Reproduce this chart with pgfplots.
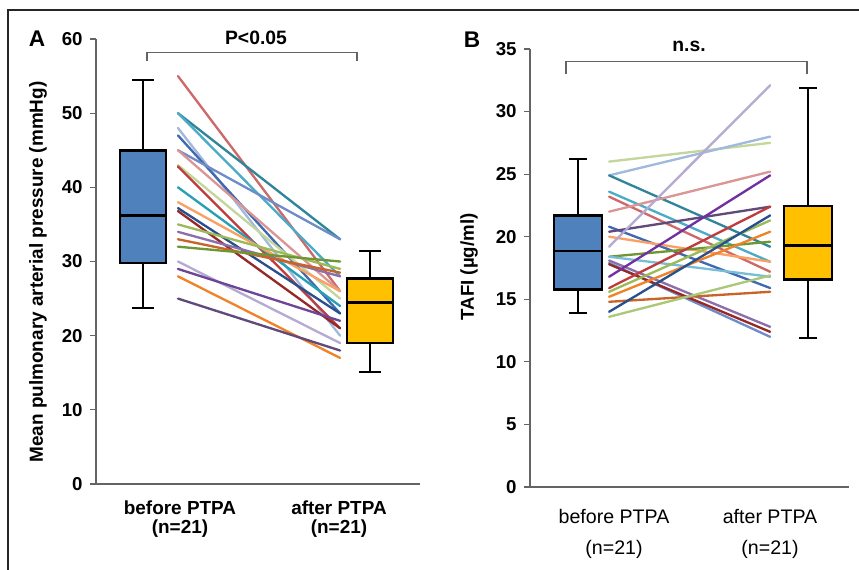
\documentclass[border=0pt]{standalone}
\usepackage{fontspec}
\setmainfont{Liberation Sans}
\usepackage{pgfplots}
\pgfplotsset{compat=1.18}
\definecolor{boxblue}{RGB}{79,129,189}
\definecolor{boxyel}{RGB}{255,192,0}
\definecolor{axgray}{RGB}{100,100,100}
\definecolor{cRedPink}{RGB}{205,105,105}
\definecolor{cDarkTeal}{RGB}{49,133,155}
\definecolor{cTeal}{RGB}{75,172,198}
\definecolor{cTeal2}{RGB}{40,160,180}
\definecolor{cLightBlue}{RGB}{160,185,220}
\definecolor{cBlue}{RGB}{65,105,175}
\definecolor{cPeri}{RGB}{110,140,200}
\definecolor{cPink}{RGB}{217,150,148}
\definecolor{cLightGreen}{RGB}{195,214,155}
\definecolor{cRed}{RGB}{192,60,60}
\definecolor{cOrangeL}{RGB}{250,160,100}
\definecolor{cDarkBlue}{RGB}{40,80,140}
\definecolor{cDarkRed}{RGB}{150,40,40}
\definecolor{cGreen}{RGB}{155,187,89}
\definecolor{cPurple}{RGB}{140,110,170}
\definecolor{cBrown}{RGB}{200,100,40}
\definecolor{cOlive}{RGB}{110,150,50}
\definecolor{cLavender}{RGB}{180,170,210}
\definecolor{cPurple2}{RGB}{110,70,150}
\definecolor{cOrange}{RGB}{240,130,40}
\definecolor{cDarkPurple}{RGB}{96,74,123}
\definecolor{cCyan}{RGB}{120,190,215}
\definecolor{cViolet}{RGB}{112,48,160}
\definecolor{cGreen2}{RGB}{170,200,120}
\pgfplotsset{
  pan/.style={
    scale only axis, anchor=south west, clip=false,
    axis x line=bottom, axis y line=left,
    axis line style={-, line width=0.9pt, draw=axgray},
    tick style={line width=0.9pt, draw=axgray},
    major tick length=4.5pt, tick align=outside,
    xtick=\empty,
    /pgf/number format/assume math mode=true,
    yticklabel style={font=\fontsize{14}{16}\selectfont\bfseries, text=black, xshift=-2pt},
  },
  ln/.style={line width=1.75pt, line cap=round},
  wh/.style={black, line width=1.4pt},
  bxs/.style={draw=black, line width=2pt, line join=miter},
  md/.style={black, line width=2pt},
}
\begin{document}
\begin{tikzpicture}
\path[use as bounding box] (0pt,0pt) rectangle (644.25pt,-427.5pt);
\draw[line width=1.6pt, black!85] (6pt,-428.25pt) -- (6pt,-7.5pt) -- (645pt,-7.5pt);
% ---------------- Panel A
\begin{axis}[pan, at={(72pt,-363pt)}, width=243pt, height=333.75pt,
  xmin=0.793, xmax=2.220, ymin=0, ymax=60, ytick={0,10,...,60}]
% box "before": whiskers 23.7/54.5, quartiles 29.8/45, median 36.2
\addplot[wh] coordinates {(1,45) (1,54.5)};
\addplot[wh] coordinates {(0.9535,54.5) (1.0465,54.5)};
\addplot[wh] coordinates {(1,29.8) (1,23.7)};
\addplot[wh] coordinates {(0.9535,23.7) (1.0465,23.7)};
\addplot[bxs, fill=boxblue] coordinates {(0.8985,29.8) (1.1015,29.8) (1.1015,45) (0.8985,45)} -- cycle;
\addplot[md] coordinates {(0.8985,36.2) (1.1015,36.2)};
% box "after": whiskers 15.1/31.4, quartiles 19.0/27.7, median 24.5
\addplot[wh] coordinates {(2,27.7) (2,31.4)};
\addplot[wh] coordinates {(1.9535,31.4) (2.0465,31.4)};
\addplot[wh] coordinates {(2,19.0) (2,15.1)};
\addplot[wh] coordinates {(1.9535,15.1) (2.0465,15.1)};
\addplot[bxs, fill=boxyel] coordinates {(1.8985,19.0) (2.1015,19.0) (2.1015,27.7) (1.8985,27.7)} -- cycle;
\addplot[md] coordinates {(1.8985,24.5) (2.1015,24.5)};
% paired lines
\addplot[ln, cRedPink]    coordinates {(1.154,55) (1.868,26)};
\addplot[ln, cDarkTeal]   coordinates {(1.154,50) (1.868,33)};
\addplot[ln, cTeal]       coordinates {(1.154,50) (1.868,28)};
\addplot[ln, cLightBlue]  coordinates {(1.154,48) (1.868,20)};
\addplot[ln, cBlue]       coordinates {(1.154,47) (1.868,23)};
\addplot[ln, cPeri]       coordinates {(1.154,45) (1.868,33)};
\addplot[ln, cPink]       coordinates {(1.154,45) (1.868,26)};
\addplot[ln, cLightGreen] coordinates {(1.154,43) (1.868,25)};
\addplot[ln, cRed]        coordinates {(1.154,42.8) (1.868,21)};
\addplot[ln, cTeal2]      coordinates {(1.154,40) (1.868,24)};
\addplot[ln, cOrangeL]    coordinates {(1.154,38) (1.868,26)};
\addplot[ln, cDarkBlue]   coordinates {(1.154,37.2) (1.868,23)};
\addplot[ln, cDarkRed]    coordinates {(1.154,36.8) (1.868,21)};
\addplot[ln, cGreen]      coordinates {(1.154,35) (1.868,29)};
\addplot[ln, cPurple]     coordinates {(1.154,34) (1.868,28)};
\addplot[ln, cBrown]      coordinates {(1.154,33) (1.868,28.5)};
\addplot[ln, cOlive]      coordinates {(1.154,32) (1.868,30)};
\addplot[ln, cLavender]   coordinates {(1.154,30) (1.868,19)};
\addplot[ln, cPurple2]    coordinates {(1.154,29) (1.868,22)};
\addplot[ln, cOrange]     coordinates {(1.154,28) (1.868,17)};
\addplot[ln, cDarkPurple] coordinates {(1.154,25) (1.868,18)};
\end{axis}
% ---------------- Panel B
\begin{axis}[pan, at={(397.5pt,-365.25pt)}, width=239.25pt, height=328.5pt,
  xmin=0.791, xmax=2.178, ymin=0, ymax=35, ytick={0,5,...,35}]
% box "before": whiskers 13.9/26.2, quartiles 15.8/21.7, median 18.85
\addplot[wh] coordinates {(1,21.7) (1,26.2)};
\addplot[wh] coordinates {(0.96,26.2) (1.04,26.2)};
\addplot[wh] coordinates {(1,15.8) (1,13.9)};
\addplot[wh] coordinates {(0.96,13.9) (1.04,13.9)};
\addplot[bxs, fill=boxblue] coordinates {(0.8955,15.8) (1.1045,15.8) (1.1045,21.7) (0.8955,21.7)} -- cycle;
\addplot[md] coordinates {(0.8955,18.85) (1.1045,18.85)};
% box "after": whiskers 11.9/31.9, quartiles 16.6/22.45, median 19.3
\addplot[wh] coordinates {(2,22.45) (2,31.9)};
\addplot[wh] coordinates {(1.96,31.9) (2.04,31.9)};
\addplot[wh] coordinates {(2,16.6) (2,11.9)};
\addplot[wh] coordinates {(1.96,11.9) (2.04,11.9)};
\addplot[bxs, fill=boxyel] coordinates {(1.8955,16.6) (2.1045,16.6) (2.1045,22.45) (1.8955,22.45)} -- cycle;
\addplot[md] coordinates {(1.8955,19.3) (2.1045,19.3)};
% paired lines
\addplot[ln, cLightGreen] coordinates {(1.135,26.0) (1.835,27.5)};
\addplot[ln, cLightBlue]  coordinates {(1.135,24.9) (1.835,28.0)};
\addplot[ln, cDarkTeal]   coordinates {(1.135,24.9) (1.835,19.2)};
\addplot[ln, cTeal]       coordinates {(1.135,23.6) (1.835,18.0)};
\addplot[ln, cRedPink]    coordinates {(1.135,23.2) (1.835,17.2)};
\addplot[ln, cPink]       coordinates {(1.135,22.0) (1.835,25.2)};
\addplot[ln, cBlue]       coordinates {(1.135,20.8) (1.835,15.9)};
\addplot[ln, cDarkPurple] coordinates {(1.135,20.4) (1.835,22.4)};
\addplot[ln, cOrangeL]    coordinates {(1.135,20.0) (1.835,18.0)};
\addplot[ln, cLavender]   coordinates {(1.135,19.2) (1.835,32.1)};
\addplot[ln, cOlive]      coordinates {(1.135,18.4) (1.835,19.6)};
\addplot[ln, cCyan]       coordinates {(1.135,18.4) (1.835,16.8)};
\addplot[ln, cPurple]     coordinates {(1.135,18.1) (1.835,12.8)};
\addplot[ln, cPeri]       coordinates {(1.135,17.9) (1.835,12.0)};
\addplot[ln, cDarkRed]    coordinates {(1.135,17.8) (1.835,12.4)};
\addplot[ln, cViolet]     coordinates {(1.135,16.8) (1.835,24.9)};
\addplot[ln, cRed]        coordinates {(1.135,15.9) (1.835,22.4)};
\addplot[ln, cGreen]      coordinates {(1.135,15.6) (1.835,21.3)};
\addplot[ln, cOrange]     coordinates {(1.135,15.2) (1.835,20.4)};
\addplot[ln, cBrown]      coordinates {(1.135,14.8) (1.835,15.6)};
\addplot[ln, cDarkBlue]   coordinates {(1.135,14.0) (1.835,21.7)};
\addplot[ln, cGreen2]     coordinates {(1.135,13.6) (1.835,16.9)};
\end{axis}
% ---------------- Annotations
\node[font=\fontsize{17}{20}\selectfont\bfseries] at (27.75pt,-29.25pt) {A};
\node[font=\fontsize{17}{20}\selectfont\bfseries] at (354pt,-30pt) {B};
\draw[line width=0.8pt, axgray] (110.25pt,-45.75pt) -- (110.25pt,-39.375pt) -- (267.75pt,-39.375pt) -- (267.75pt,-45.75pt);
\node[font=\fontsize{14.5}{17}\selectfont\bfseries] at (192pt,-28.5pt) {P<0.05};
\draw[line width=0.8pt, axgray] (424.5pt,-55.875pt) -- (424.5pt,-46.275pt) -- (605.25pt,-46.275pt) -- (605.25pt,-55.875pt);
\node[font=\fontsize{14.5}{17}\selectfont\bfseries] at (516.75pt,-34.5pt) {n.s.};
\node[rotate=90, font=\fontsize{14.2}{16}\selectfont\bfseries] at (28.5pt,-204pt) {Mean pulmonary arterial pressure (mmHg)};
\node[rotate=90, font=\fontsize{14}{16}\selectfont\bfseries] at (351.75pt,-200.25pt) {TAFI (µg/ml)};
\node[font=\fontsize{14.2}{17}\selectfont\bfseries] at (135pt,-380.6pt) {before PTPA};
\node[font=\fontsize{14.2}{17}\selectfont\bfseries] at (135pt,-396.75pt) {(n=21)};
\node[font=\fontsize{14.2}{17}\selectfont\bfseries] at (254.25pt,-380.6pt) {after PTPA};
\node[font=\fontsize{14.2}{17}\selectfont\bfseries] at (254.25pt,-396.75pt) {(n=21)};
\node[font=\fontsize{14.7}{17}\selectfont] at (460.5pt,-387pt) {before PTPA};
\node[font=\fontsize{14.7}{17}\selectfont] at (460.5pt,-412.1pt) {(n=21)};
\node[font=\fontsize{14.7}{17}\selectfont] at (577.5pt,-387pt) {after PTPA};
\node[font=\fontsize{14.7}{17}\selectfont] at (577.5pt,-412.1pt) {(n=21)};
\end{tikzpicture}
\end{document}
